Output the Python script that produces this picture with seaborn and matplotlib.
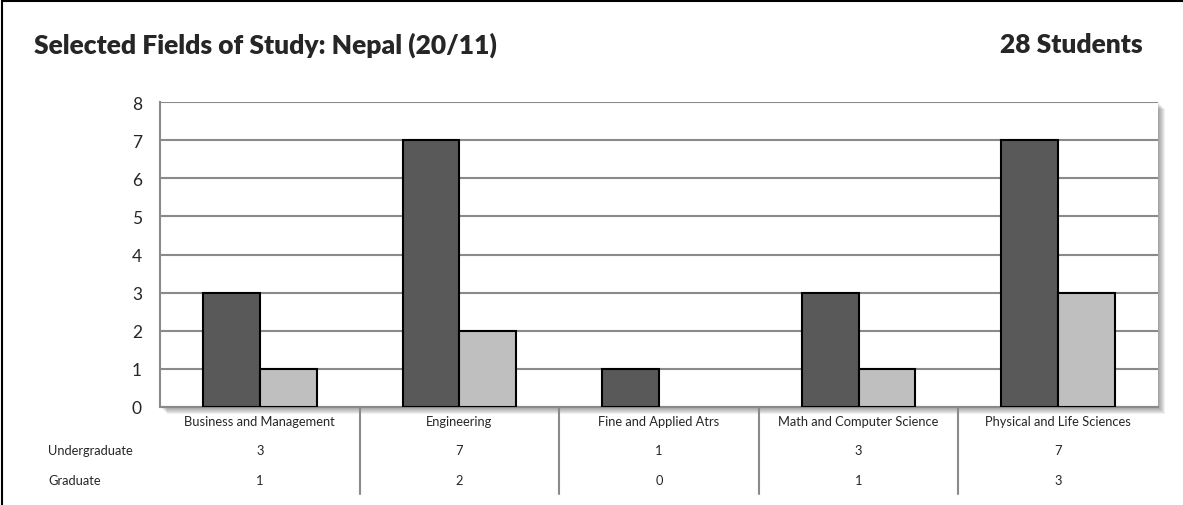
import numpy as np
import pandas as pd
import matplotlib.pyplot as plt
import matplotlib.patches as mpatches
import matplotlib.transforms as mtransforms
import seaborn as sns

# -----------------------------
# Data
# -----------------------------
fields = ["Business and Management", "Engineering", "Fine and Applied Atrs",
          "Math and Computer Science", "Physical and Life Sciences"]
levels = ["Undergraduate", "Graduate"]
undergrad = [3, 7, 1, 3, 7]
grad = [1, 2, 0, 1, 3]
bar_colors = ["#595959", "#bfbfbf"]

df = pd.DataFrame({
    "Field": fields * 2,
    "Level": [levels[0]] * len(fields) + [levels[1]] * len(fields),
    "Students": undergrad + grad,
})

sns.set_style("white")
plt.rcParams["font.family"] = ["Lato", "DejaVu Sans"]

W, H = 1183, 506
fig = plt.figure(figsize=(W / 100, H / 100), dpi=100)
ax = fig.add_axes([160 / W, 1 - 408 / H, 998 / W, 305 / H])

# drop shadow behind the plot area
for i in range(1, 8):
    fig.add_artist(mpatches.Rectangle(((160 + i) / W, (1 - 408 / H) - i / H), 998 / W, 305 / H,
                                      transform=fig.transFigure, facecolor="black",
                                      alpha=0.06, edgecolor="none", zorder=-1))

sns.barplot(data=df, x="Field", y="Students", hue="Level", hue_order=levels,
            palette=bar_colors, width=0.57, saturation=1, edgecolor="black",
            linewidth=1.5, legend=False, ax=ax, zorder=3)

# hide empty bars
for p in ax.patches:
    if p.get_height() == 0:
        p.set_visible(False)

grid_color = "#8a8a8a"
ax.set_ylim(0, 8)
ax.set_xlim(-0.5, len(fields) - 0.5)
ax.set_yticks(range(0, 9))
ax.yaxis.grid(True, color=grid_color, linewidth=1.5, zorder=0)
ax.set_axisbelow(True)
for side in ["top", "right"]:
    ax.spines[side].set_visible(False)
for side in ["left", "bottom"]:
    ax.spines[side].set_color(grid_color)
    ax.spines[side].set_linewidth(1.5)
ax.tick_params(axis="y", length=7, width=1.5, color=grid_color, labelsize=12.5, pad=6)
ax.set_xticks([])
ax.set_xlabel("")
ax.set_ylabel("")

# data table below the chart
fs = 9.3
trans = mtransforms.blended_transform_factory(ax.transData, fig.transFigure)
row_y = [1 - 451 / H, 1 - 481 / H]
for i, name in enumerate(fields):
    ax.text(i, 1 - 422 / H, name, transform=trans, ha="center", va="center", fontsize=fs)
    ax.text(i, row_y[0], str(undergrad[i]), transform=trans, ha="center", va="center", fontsize=fs)
    ax.text(i, row_y[1], str(grad[i]), transform=trans, ha="center", va="center", fontsize=fs)
for k in range(len(fields) - 1):
    ax.plot([k + 0.5, k + 0.5], [1 - 408 / H, 1 - 495 / H], transform=trans,
            color=grid_color, linewidth=1.5, clip_on=False)
for lab, y in zip(levels, row_y):
    fig.text(48 / W, y, lab, ha="left", va="center", fontsize=fs)

# titles
fig.text(34 / W, 1 - 45 / H, "Selected Fields of Study: Nepal (20/11)",
         fontsize=19, fontweight="heavy", va="center", ha="left")
fig.text(1143 / W, 1 - 45 / H, "28 Students",
         fontsize=19, fontweight="heavy", va="center", ha="right")

# outer frame (right and bottom edges fall outside the image)
fig.add_artist(mpatches.Rectangle((2 / W, -0.1), 1.2, 1.1 - 2 / H, transform=fig.transFigure,
                                  fill=False, edgecolor="black", linewidth=1.5))

fig.savefig("out.png", dpi=100)
